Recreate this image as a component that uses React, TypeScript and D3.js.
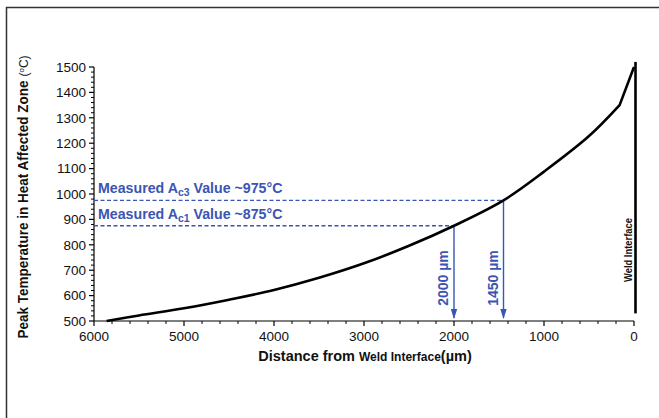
import React from "react";
import * as d3 from "d3";

const distances = [5860, 5500, 5000, 4500, 4000, 3500, 3000, 2500, 2000, 1450, 1000, 500, 160];
const temps = [500, 522, 550, 584, 622, 670, 727, 796, 875, 975, 1088, 1228, 1350];
const tipDistance = 0;
const tipTemp = 1500;

const xMajorTicks = [6000, 5000, 4000, 3000, 2000, 1000, 0];
const yMajorTicks = [500, 600, 700, 800, 900, 1000, 1100, 1200, 1300, 1400, 1500];

const markerNames = ["c3", "c1"];
const markerTemps = [975, 875];
const markerDistances = [1450, 2000];
const markerDistLabels = ["1450 µm", "2000 µm"];

const W = 659;
const H = 418;
const FONT = "'Liberation Sans', Arial, Helvetica, sans-serif";
const BLUE = "#3a55b3";

export default function App() {
  const x = d3.scaleLinear().domain([6000, 0]).range([94, 634]);
  const y = d3.scaleLinear().domain([500, 1500]).range([321, 67]);

  const pts: [number, number][] = distances.map((d, i) => [d, temps[i]]);
  const smooth = d3
    .line<[number, number]>()
    .x((p) => x(p[0]))
    .y((p) => y(p[1]))
    .curve(d3.curveCatmullRom.alpha(0.5));
  const curvePath = (smooth(pts) || "") + `L${x(tipDistance)},${y(tipTemp)}`;

  const xMinor = d3.range(0, 6001, 200).filter((v) => v % 1000 !== 0);
  const yMinor = d3.range(500, 1501, 20).filter((v) => v % 100 !== 0);

  const x0 = x.range()[0];
  const y0 = y.range()[0];

  return (
    <svg
      width={W}
      height={H}
      style={{ position: "absolute", left: 0, top: 0, background: "#fff" }}
      fontFamily={FONT}
    >
      <rect x={0} y={0} width={W} height={H} fill="#fff" />
      {/* frame */}
      <path d={`M6.5,${H + 5}V7.5H${W + 5}`} fill="none" stroke="#333" strokeWidth={1.5} />

      {/* y axis */}
      <line x1={x0} x2={x0} y1={y(500)} y2={y(1500)} stroke="#000" strokeWidth={1.2} />
      {yMajorTicks.map((t) => (
        <g key={"ym" + t}>
          <line x1={x0 - 5} x2={x0} y1={y(t)} y2={y(t)} stroke="#000" strokeWidth={1.2} />
          <text x={x0 - 8} y={y(t)} dy="0.35em" textAnchor="end" fontSize={13.5} fill="#111">
            {t}
          </text>
        </g>
      ))}
      {yMinor.map((t) => (
        <line key={"yn" + t} x1={x0 - 3} x2={x0} y1={y(t)} y2={y(t)} stroke="#000" strokeWidth={1} />
      ))}

      {/* x axis */}
      <line x1={x(6000)} x2={x(0)} y1={y0} y2={y0} stroke="#000" strokeWidth={1.2} />
      {xMajorTicks.map((t) => (
        <g key={"xm" + t}>
          <line x1={x(t)} x2={x(t)} y1={y0} y2={y0 + 5} stroke="#000" strokeWidth={1.2} />
          <text x={x(t)} y={y0 + 20} textAnchor="middle" fontSize={13.5} fill="#111">
            {t}
          </text>
        </g>
      ))}
      {xMinor.map((t) => (
        <line key={"xn" + t} x1={x(t)} x2={x(t)} y1={y0} y2={y0 + 3} stroke="#000" strokeWidth={1} />
      ))}

      {/* axis titles */}
      <text x={365} y={361} textAnchor="middle" fontWeight="bold" fill="#111">
        <tspan fontSize={14.5}>Distance from </tspan>
        <tspan fontSize={12}>Weld Interface</tspan>
        <tspan fontSize={14.5}>(µm)</tspan>
      </text>
      <text
        transform="translate(28,197) rotate(-90)"
        textAnchor="middle"
        fontWeight="bold"
        fill="#111"
      >
        <tspan fontSize={14.5} textLength={258} lengthAdjust="spacingAndGlyphs">
          Peak Temperature in Heat Affected Zone
        </tspan>
        <tspan fontSize={12} fontWeight="normal" dx="4">(</tspan>
        <tspan fontSize={8} fontWeight="normal" dy="-4">o</tspan>
        <tspan fontSize={12} fontWeight="normal" dy="4">C)</tspan>
      </text>

      {/* weld interface */}
      <line x1={x(0) + 1.5} x2={x(0) + 1.5} y1={y(1520)} y2={y(530)} stroke="#000" strokeWidth={2.6} />
      <text
        transform={`translate(${x(0) - 2},250) rotate(-90)`}
        textAnchor="middle"
        fontSize={11}
        fontWeight="bold"
        fill="#111"
        textLength={64}
        lengthAdjust="spacingAndGlyphs"
      >
        Weld Interface
      </text>

      {/* markers */}
      {markerNames.map((n, i) => {
        const xm = x(markerDistances[i]);
        const ym = y(markerTemps[i]);
        return (
          <g key={n}>
            <line x1={x0} x2={xm} y1={ym} y2={ym} stroke={BLUE} strokeWidth={1.4} strokeDasharray="4,2.5" />
            <line x1={xm} x2={xm} y1={ym} y2={y0 - 3} stroke={BLUE} strokeWidth={1.4} />
            <path
              d={`M${xm - 3.2},${y0 - 12}L${xm + 3.2},${y0 - 12}L${xm},${y0 - 2}z`}
              fill={BLUE}
            />
            <text x={x0 + 4} y={ym - 7} fontSize={14.2} fontWeight="bold" fill={BLUE}>
              Measured A
              <tspan fontSize={10.5} dy="3">{n}</tspan>
              <tspan dy="-3"> Value ~{markerTemps[i]}°C</tspan>
            </text>
            <text
              transform={`translate(${xm - 6},${y0 - 43}) rotate(-90)`}
              textAnchor="middle"
              fontSize={14}
              fontWeight="bold"
              fill={BLUE}
            >
              {markerDistLabels[i]}
            </text>
          </g>
        );
      })}

      {/* curve */}
      <path d={curvePath} fill="none" stroke="#000" strokeWidth={2.6} strokeLinejoin="round" />
    </svg>
  );
}
